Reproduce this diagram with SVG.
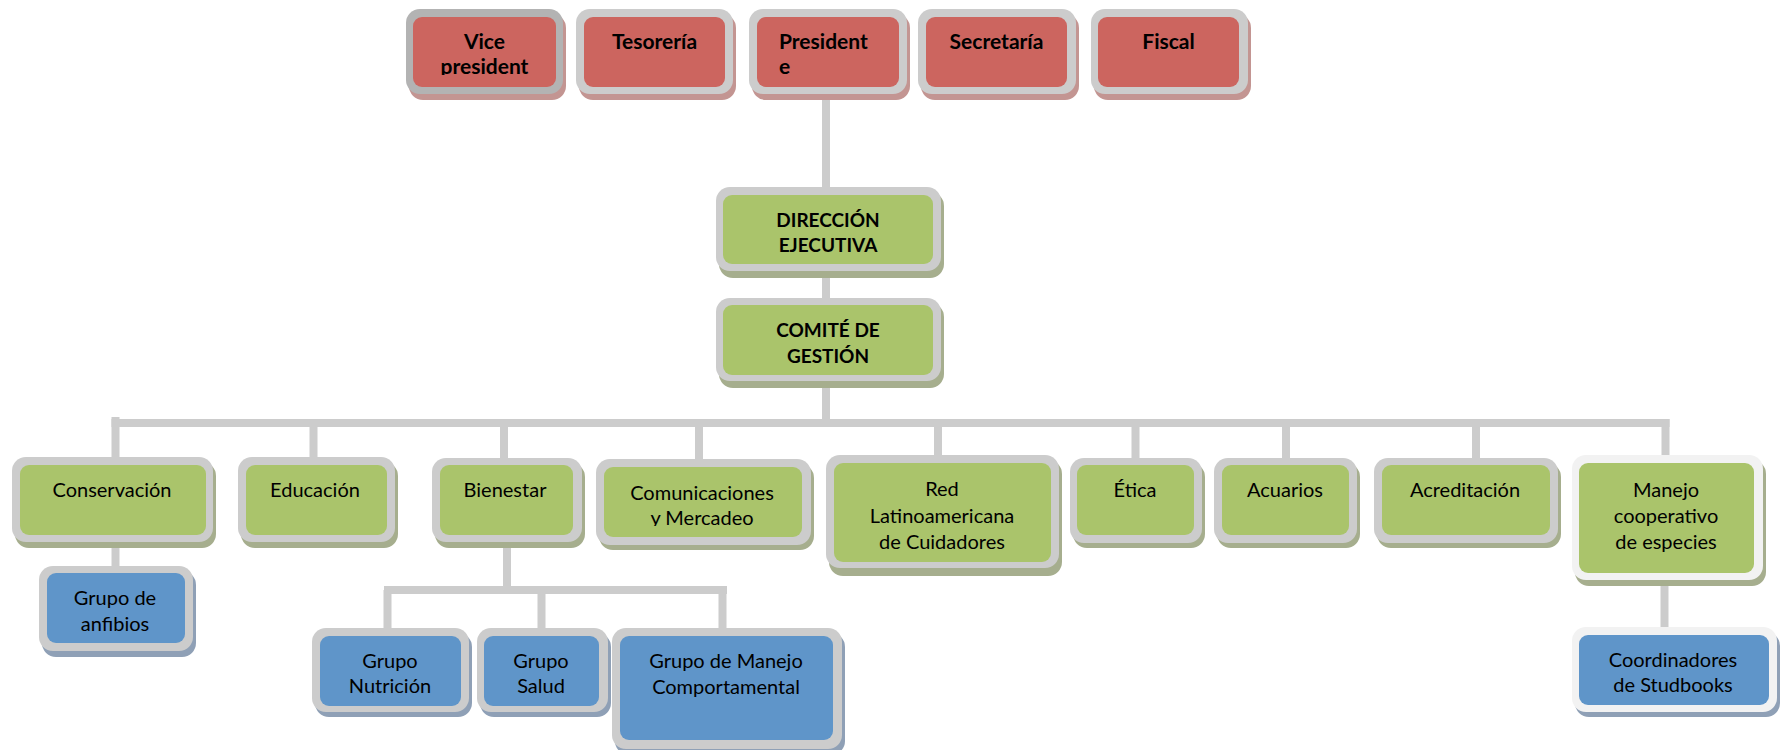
<svg xmlns="http://www.w3.org/2000/svg" width="1781" height="750" viewBox="0 0 1781 750">
<defs>
<style>
.bd{fill:#cccccc}
.bdd{fill:#b3b3b3}
.bdw{fill:#f2f2f2}
.red{fill:#cc655f}
.grn{fill:#aac46b}
.blu{fill:#5f95c9}
.shr{fill:#c39592}
.shg{fill:#a6ae8e}
.shb{fill:#8fa0b6}
.tb{font-family:Lato,"Liberation Sans",sans-serif;font-weight:bold;font-size:19px;fill:#000;text-anchor:middle}
.tr{font-family:Lato,"Liberation Sans",sans-serif;font-weight:bold;font-size:21px;fill:#000;text-anchor:middle}
.tn{font-family:Lato,"Liberation Sans",sans-serif;font-size:20px;fill:#000;text-anchor:middle}
.cn{stroke:#cccccc;stroke-width:8;fill:none}
</style>
<clipPath id="clipVice"><rect x="413" y="17" width="143" height="58"/></clipPath>
<clipPath id="clipCom"><rect x="604" y="467" width="198" height="59"/></clipPath>
</defs>
<rect width="1781" height="750" fill="#ffffff"/>
<g id="connectors">
<path class="cn" d="M826 94V187M826 271V298M826 381V423"/>
<path class="cn" d="M111.5 423H1669.5"/>
<path class="cn" d="M115.5 417V457M313.5 423V457M504 423V458M699 423V459M938 423V455M1135.5 423V458M1286 423V458M1476 423V458M1665.5 419V455"/>
<path class="cn" d="M115.5 542V566"/>
<path class="cn" d="M507 542V590M384 590H727M387.5 590V628M541.5 590V628M722.5 590V628"/>
<path class="cn" d="M1664.5 580V627"/>
</g>
<g id="vicepresident">
<rect class="shr" x="409" y="14" width="157" height="86" rx="14"/>
<rect class="bdd" x="406" y="9" width="157" height="85" rx="14"/>
<rect class="red" x="413" y="17" width="143" height="70" rx="9"/>
<g clip-path="url(#clipVice)"><text class="tr" x="484.5" y="49">Vice</text><text class="tr" x="484.5" y="74">president</text></g>
</g>
<g id="tesoreria">
<rect class="shr" x="579" y="14" width="157" height="86" rx="14"/>
<rect class="bd" x="576" y="9" width="157" height="85" rx="14"/>
<rect class="red" x="584" y="17" width="141" height="70" rx="9"/>
<text class="tr" x="654.5" y="49">Tesorería</text>
</g>
<g id="presidente">
<rect class="shr" x="752" y="14" width="158" height="86" rx="14"/>
<rect class="bd" x="749" y="9" width="158" height="85" rx="14"/>
<rect class="red" x="757" y="17" width="142" height="70" rx="9"/>
<text class="tr" x="779" y="49" style="text-anchor:start">President</text>
<text class="tr" x="779" y="74" style="text-anchor:start">e</text>
</g>
<g id="secretaria">
<rect class="shr" x="921" y="14" width="158" height="86" rx="14"/>
<rect class="bd" x="918" y="9" width="158" height="85" rx="14"/>
<rect class="red" x="926" y="17" width="141" height="70" rx="9"/>
<text class="tr" x="996.5" y="49">Secretaría</text>
</g>
<g id="fiscal">
<rect class="shr" x="1094" y="14" width="157" height="86" rx="14"/>
<rect class="bd" x="1091" y="9" width="157" height="85" rx="14"/>
<rect class="red" x="1098" y="17" width="141" height="70" rx="9"/>
<text class="tr" x="1168.5" y="49">Fiscal</text>
</g>
<g id="direccion">
<rect class="shg" x="719" y="192" width="225" height="86" rx="14"/>
<rect class="bd" x="716" y="187" width="225" height="84" rx="14"/>
<rect class="grn" x="723" y="195" width="210" height="69" rx="9"/>
<text class="tb" x="828" y="227">DIRECCIÓN</text>
<text class="tb" x="828" y="252">EJECUTIVA</text>
</g>
<g id="comite">
<rect class="shg" x="719" y="303" width="225" height="85" rx="14"/>
<rect class="bd" x="716" y="298" width="225" height="83" rx="14"/>
<rect class="grn" x="723" y="305" width="210" height="70" rx="9"/>
<text class="tb" x="828" y="337">COMITÉ DE</text>
<text class="tb" x="828" y="363">GESTIÓN</text>
</g>
<g id="conservacion">
<rect class="shg" x="15" y="462" width="201" height="86" rx="14"/>
<rect class="bd" x="12" y="457" width="201" height="85" rx="14"/>
<rect class="grn" x="20" y="465" width="186" height="70" rx="9"/>
<text class="tn" x="112" y="497">Conservación</text>
</g>
<g id="educacion">
<rect class="shg" x="241" y="462" width="157" height="86" rx="14"/>
<rect class="bd" x="238" y="457" width="157" height="85" rx="14"/>
<rect class="grn" x="246" y="465" width="141" height="70" rx="9"/>
<text class="tn" x="315" y="497">Educación</text>
</g>
<g id="bienestar">
<rect class="shg" x="435" y="463" width="150" height="85" rx="14"/>
<rect class="bd" x="432" y="458" width="150" height="84" rx="14"/>
<rect class="grn" x="440" y="465" width="133" height="70" rx="9"/>
<text class="tn" x="505" y="497">Bienestar</text>
</g>
<g id="comunicaciones">
<rect class="shg" x="599" y="464" width="215" height="86" rx="14"/>
<rect class="bd" x="596" y="459" width="215" height="86" rx="14"/>
<rect class="grn" x="604" y="467" width="198" height="70" rx="9"/>
<g clip-path="url(#clipCom)"><text class="tn" x="702" y="500">Comunicaciones</text><text class="tn" x="702" y="525">y Mercadeo</text></g>
</g>
<g id="redlatinoamericana">
<rect class="shg" x="829" y="460" width="233" height="116" rx="14"/>
<rect class="bd" x="826" y="455" width="233" height="113" rx="14"/>
<rect class="grn" x="834" y="463" width="217" height="99" rx="9"/>
<text class="tn" x="942" y="496">Red</text>
<text class="tn" x="942" y="523">Latinoamericana</text>
<text class="tn" x="942" y="549">de Cuidadores</text>
</g>
<g id="etica">
<rect class="shg" x="1073" y="463" width="132" height="85" rx="14"/>
<rect class="bd" x="1070" y="458" width="132" height="85" rx="14"/>
<rect class="grn" x="1077" y="465" width="117" height="70" rx="9"/>
<text class="tn" x="1135" y="497">Ética</text>
</g>
<g id="acuarios">
<rect class="shg" x="1217" y="463" width="143" height="85" rx="14"/>
<rect class="bd" x="1214" y="458" width="143" height="85" rx="14"/>
<rect class="grn" x="1222" y="465" width="127" height="70" rx="9"/>
<text class="tn" x="1285" y="497">Acuarios</text>
</g>
<g id="acreditacion">
<rect class="shg" x="1377" y="463" width="184" height="85" rx="14"/>
<rect class="bd" x="1374" y="458" width="184" height="85" rx="14"/>
<rect class="grn" x="1382" y="465" width="168" height="70" rx="9"/>
<text class="tn" x="1465" y="497">Acreditación</text>
</g>
<g id="manejocooperativo">
<rect class="shg" x="1575" y="460" width="191" height="126" rx="14"/>
<rect class="bdw" x="1572" y="455" width="191" height="125" rx="14"/>
<rect class="grn" x="1579" y="463" width="175" height="110" rx="9"/>
<text class="tn" x="1666" y="497">Manejo</text>
<text class="tn" x="1666" y="523">cooperativo</text>
<text class="tn" x="1666" y="549">de especies</text>
</g>
<g id="anfibios">
<rect class="shb" x="42" y="571" width="154" height="86" rx="14"/>
<rect class="bd" x="39" y="566" width="154" height="85" rx="14"/>
<rect class="blu" x="47" y="573" width="138" height="70" rx="9"/>
<text class="tn" x="115" y="605">Grupo de</text>
<text class="tn" x="115" y="631">anfibios</text>
</g>
<g id="nutricion">
<rect class="shb" x="315" y="633" width="157" height="84" rx="14"/>
<rect class="bd" x="312" y="628" width="157" height="84" rx="14"/>
<rect class="blu" x="320" y="636" width="141" height="70" rx="9"/>
<text class="tn" x="390" y="668">Grupo</text>
<text class="tn" x="390" y="693">Nutrición</text>
</g>
<g id="salud">
<rect class="shb" x="480" y="633" width="131" height="84" rx="14"/>
<rect class="bd" x="477" y="628" width="131" height="84" rx="14"/>
<rect class="blu" x="484" y="636" width="115" height="70" rx="9"/>
<text class="tn" x="541" y="668">Grupo</text>
<text class="tn" x="541" y="693">Salud</text>
</g>
<g id="comportamental">
<rect class="shb" x="615" y="633" width="230" height="122" rx="14"/>
<rect class="bd" x="612" y="628" width="230" height="121" rx="14"/>
<rect class="blu" x="620" y="636" width="213" height="104" rx="9"/>
<text class="tn" x="726" y="668">Grupo de Manejo</text>
<text class="tn" x="726" y="694">Comportamental</text>
</g>
<g id="coordinadores">
<rect class="shb" x="1575" y="632" width="205" height="85" rx="14"/>
<rect class="bdw" x="1572" y="627" width="205" height="85" rx="14"/>
<rect class="blu" x="1579" y="635" width="190" height="70" rx="9"/>
<text class="tn" x="1673" y="667">Coordinadores</text>
<text class="tn" x="1673" y="692">de Studbooks</text>
</g>
</svg>
